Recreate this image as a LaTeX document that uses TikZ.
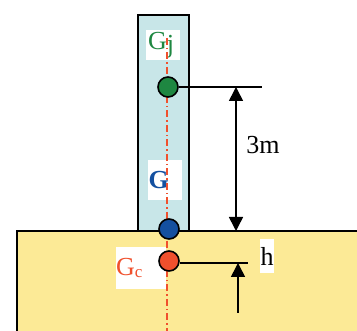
\documentclass[tikz,border=0pt]{standalone}
\usepackage{fontspec}
\setmainfont{Liberation Serif}
\usetikzlibrary{arrows.meta}
\definecolor{colfill}{RGB}{200,230,232}
\definecolor{gndfill}{RGB}{252,234,150}
\definecolor{gjcol}{RGB}{30,135,65}
\definecolor{gcol}{RGB}{20,80,160}
\definecolor{gccol}{RGB}{240,80,45}
\tikzset{
  outline/.style={draw=black, line width=1.6pt},
  cg/.style={circle, draw=black, line width=1.6pt, minimum size=20pt, inner sep=0pt},
  lbl/.style={fill=white, inner sep=0pt, font=\fontsize{26}{26}\selectfont},
  dim/.style={line width=1.6pt},
  tip/.style={-{Triangle[width=14pt,length=14pt]}},
  axis/.style={draw=gccol, line width=1.4pt, dash pattern=on 7pt off 3pt on 1.5pt off 3pt}
}
\begin{document}
\begin{tikzpicture}[x=1pt,y=-1pt]
\useasboundingbox (0,0) rectangle (357,331);
\clip (0,0) rectangle (357,331);
% column and ground
\draw[outline, fill=colfill] (138,15) rectangle (189,231);
\draw[outline, fill=gndfill] (17,231) rectangle (370,345);
% labels
\node[lbl, minimum width=34pt, minimum height=30pt, text width=32pt, align=left, text=gjcol] (lgj) at (163,45) {\hspace*{1pt}G\raisebox{-3pt}{j}};
\node[lbl, minimum width=34pt, minimum height=40pt, text width=33pt, align=left, text=gcol] (lg) at (165,180) {\bfseries G};
\node[lbl, minimum width=50pt, minimum height=42pt, text width=50pt, align=left, text=gccol] (lgc) at (141,268) {G\raisebox{-2pt}{\fontsize{17}{17}\selectfont c}};
\node[lbl, minimum width=14pt, minimum height=34pt] (lh) at (267,256) {h};
\node[font=\fontsize{26}{26}\selectfont, inner sep=0pt] (l3m) at (263,145) {3m};
% centre line
\coordinate (atop) at (167,38);
\coordinate (abot) at (167,331);
\draw[axis] (atop) -- (abot);
% centres of gravity
\node[cg, fill=gjcol] (gj) at (168,87) {};
\node[cg, fill=gcol] (g) at (169,229) {};
\node[cg, fill=gccol] (gc) at (169,261) {};
% dimension lines
\coordinate (gjr) at (262,87);
\coordinate (gcr) at (248,263);
\draw[dim] (gj.east) -- (gjr);
\draw[dim] (gc.east |- gcr) -- (gcr);
\coordinate (a1) at (236,87);
\coordinate (a2) at (236,231);
\draw[dim, {Triangle[width=14pt,length=14pt]}-{Triangle[width=14pt,length=14pt]}] (a1) -- (a2);
\coordinate (h1) at (238,313);
\coordinate (h2) at (238,263);
\draw[dim, tip] (h1) -- (h2);
\end{tikzpicture}
\end{document}
